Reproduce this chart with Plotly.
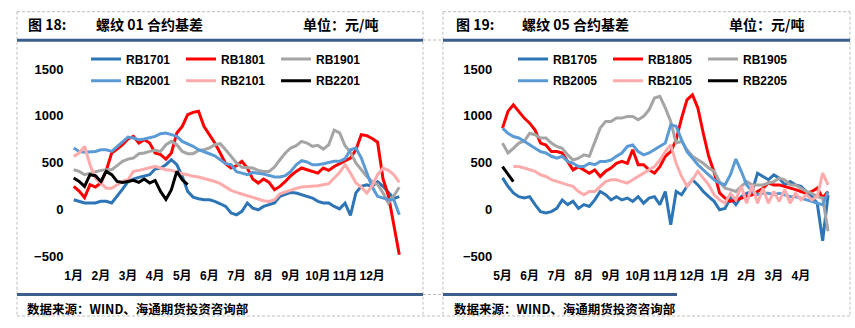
import plotly.graph_objects as go

W, H = 855, 328

# ---- categories: months of the contract season (x = months from season start, 0.2-month steps)
x_months = [round(i * 0.2, 1) for i in range(61)]
ticks_01 = ["1月", "2月", "3月", "4月", "5月", "6月", "7月", "8月", "9月", "10月", "11月", "12月"]
ticks_05 = ["5月", "6月", "7月", "8月", "9月", "10月", "11月", "12月", "1月", "2月", "3月", "4月"]
y_ticks = [-500, 0, 500, 1000, 1500]

N = None
# ---- 01 contracts basis (元/吨)
rb1701 = [107, 90, 72, 72, 72, 90, 90, 72, 143, 220, 300, 327, 345, 356, 374, 434, 445, 480, 533, 480,
          356, 196, 135, 118, 107, 107, 90, 64, 36, -35, -53, -17, 72, 18, 0, 36, 54, 72, 143, 160,
          185, 178, 160, 143, 125, 90, 72, 72, 36, 10, 70, -60, 180, 249, 267, 249, 300, 250, 180, 120, 140]
rb1801 = [249, 200, 130, 267, 242, 285, 420, 605, 647, 693, 754, 782, 711, 747, 711, 605, 587, 540, 605, 818,
          889, 1013, 1038, 1049, 889, 800, 711, 605, 491, 445, 470, 516, 445, 327, 285, 327, 292, 214, 249, 302,
          363, 409, 445, 427, 409, 391, 445, 420, 462, 491, 526, 551, 640, 800, 790, 760, 720, 330, 150, -160, -480]
rb1901 = [427, 409, 374, 391, 409, 420, 427, 427, 470, 516, 540, 551, 597, 605, 622, 633, 622, 693, 729, 693,
          622, 597, 597, 633, 640, 658, 693, 704, 640, 569, 500, 452, 445, 445, 420, 409, 409, 455, 533, 605,
          658, 683, 729, 711, 676, 686, 647, 693, 850, 820, 683, 612, 498, 427, 356, 300, 270, 180, 70, 150, 240]
rb2001 = [658, 622, 612, 615, 622, 640, 640, 622, 676, 729, 775, 764, 747, 754, 764, 782, 810, 818, 800, 782,
          729, 704, 676, 640, 622, 597, 576, 533, 491, 480, 405, 391, 374, 398, 391, 380, 366, 349, 349, 363,
          409, 480, 523, 509, 480, 480, 491, 505, 516, 516, 544, 640, 658, 551, 391, 242, 143, 125, 107, 107, -53]
rb2101 = [569, 605, 676, 480, 338, 285, 230, 230, 267, 302, 320, 409, 420, 434, 445, 462, 445, 427, 420, 398,
          384, 374, 356, 349, 335, 320, 302, 278, 242, 207, 185, 171, 150, 132, 114, 96, 89, 107, 171, 192,
          214, 228, 242, 246, 249, 256, 267, 278, 338, 398, 480, 391, 285, 242, 178, 256, 374, 445, 420, 374, 292]
rb2201 = [338, 302, 249, 374, 363, 302, 409, 374, 302, 292, 302, 313, 292, 327, 285, 313, 196, 110, 214, 409,
          320, 267] + [N] * 39

# ---- 05 contracts basis (元/吨)
rb1705 = [340, 250, 180, 140, 125, 140, 55, -20, -35, -20, 15, 105, 55, 90, 15, 55, 35, 105, 195, 160,
          105, 140, 105, 125, 90, 140, 70, 125, 140, 55, 195, -160, 195, 160, 250, 320, 265, 195, 140, 90,
          0, 15, 125, 55, 140, 175, 195, 390, 355, 320, 373, 337, 265, 300, 265, 250, 195, 140, 70, -330, 160]
rb1805 = [870, 1048, 1119, 1048, 977, 923, 850, 710, 690, 620, 620, 605, 515, 425, 460, 425, 390, 425, 355, 410,
          445, 495, 515, 495, 640, 480, 480, 425, 390, 460, 570, 620, 745, 977, 1172, 1225, 1085, 815, 570, 400,
          180, 125, 90, 105, 125, 140, 160, 195, 230, 285, 265, 265, 250, 230, 215, 195, 175, 195, 230, 125, 195]
rb1905 = [710, 605, 655, 710, 730, 815, 800, 765, 765, 710, 675, 655, 585, 530, 550, 585, 570, 730, 870, 940,
          940, 977, 977, 995, 995, 960, 995, 1065, 1190, 1208, 1085, 940, 710, 730, 640, 570, 530, 495, 445, 410,
          300, 230, 215, 195, 250, 300, 265, 265, 265, 285, 300, 337, 320, 265, 265, 230, 195, 175, 140, 125, -230]
rb2005 = [870, 815, 780, 765, 730, 690, 655, 620, 605, 570, 550, 570, 515, 495, 460, 460, 495, 480, 515, 515,
          530, 570, 605, 675, 690, 620, 585, 605, 640, 675, 710, 905, 890, 745, 620, 550, 480, 425, 373, 320,
          285, 265, 373, 540, 410, 265, 195, 160, 175, 175, 160, 175, 160, 140, 140, 125, 105, 90, 70, 55, 195]
rb2105 = [N, N, 460, 460, 445, 425, 410, 373, 355, 320, 300, 285, 265, 250, 195, 160, 195, 195, 250, 300,
          320, 320, 300, 285, 320, 355, 390, 425, 460, 530, 620, 690, 495, 355, 250, 320, 410, 337, 265, 160,
          105, 70, 175, 105, 250, 70, 265, 70, 230, 70, 195, 90, 215, 70, 175, 105, 160, 105, 140, 390, 265]
rb2205 = [460, 380, 300] + [N] * 58

COLORS = ["#2E75B6", "#FF0000", "#A5A5A5", "#5B9BD5", "#FFABAB", "#000000"]
FRAME_BLUE = "#3B5E8C"
DASH_GREY = "#BDBDBD"

left_series = [("RB1701", rb1701), ("RB1801", rb1801), ("RB1901", rb1901),
               ("RB2001", rb2001), ("RB2101", rb2101), ("RB2201", rb2201)]
right_series = [("RB1705", rb1705), ("RB1805", rb1805), ("RB1905", rb1905),
                ("RB2005", rb2005), ("RB2105", rb2105), ("RB2205", rb2205)]


def px(x):
    return x / W


def py(y):
    return (H - y) / H


fig = go.Figure()

for k, (name, vals) in enumerate(left_series):
    fig.add_trace(go.Scatter(x=x_months, y=vals, name=name, mode="lines",
                             line=dict(color=COLORS[k], width=3), connectgaps=False,
                             xaxis="x", yaxis="y", legend="legend" if k < 3 else "legend2"))
for k, (name, vals) in enumerate(right_series):
    fig.add_trace(go.Scatter(x=x_months, y=vals, name=name, mode="lines",
                             line=dict(color=COLORS[k], width=3), connectgaps=False,
                             xaxis="x2", yaxis="y2", legend="legend3" if k < 3 else "legend4"))

tick_font = dict(family="Liberation Sans, Arial", size=13, color="#000000", weight="bold")
month_font = dict(family="Liberation Sans, Noto Sans CJK SC", size=12, color="#000000", weight="bold")

x_common = dict(range=[-0.1, 12.1], tickmode="array", tickvals=list(range(12)), tickangle=0,
                showgrid=False, zeroline=False, showline=False, automargin=False,
                ticks="outside", ticklen=8, tickcolor="rgba(0,0,0,0)", tickfont=month_font)
y_common = dict(range=[-500, 1500], tickmode="array", tickvals=y_ticks, tickformat="d",
                showgrid=False, zeroline=False, showline=False, automargin=False,
                ticks="outside", ticklen=4, tickcolor="rgba(0,0,0,0)", tickfont=tick_font)

y_dom = [py(256.7), py(69)]

legend_base = dict(orientation="h", entrywidth=50, entrywidthmode="pixels",
                   font=dict(family="Liberation Sans, Arial", size=12, color="#000000", weight="bold"),
                   bgcolor="rgba(0,0,0,0)", borderwidth=0, xanchor="left", yanchor="middle",
                   itemwidth=30, tracegroupgap=0, itemclick=False)

fig.update_layout(
    width=W, height=H, autosize=False,
    margin=dict(l=0, r=0, t=0, b=0, autoexpand=False),
    paper_bgcolor="white", plot_bgcolor="white",
    xaxis=dict(domain=[px(71), px(402)], ticktext=ticks_01, anchor="y", **x_common),
    yaxis=dict(domain=y_dom, anchor="x", **y_common),
    xaxis2=dict(domain=[px(499.8), px(830.8)], ticktext=ticks_05, anchor="y2", **x_common),
    yaxis2=dict(domain=y_dom, anchor="x2", **y_common),
    legend=dict(x=px(86), y=py(59), **legend_base),
    legend2=dict(x=px(86), y=py(80.7), **legend_base),
    legend3=dict(x=px(513), y=py(59), **legend_base),
    legend4=dict(x=px(513), y=py(80.7), **legend_base),
)

shapes = []


def hline(x0, x1, y, color, width, dash=None):
    shapes.append(dict(type="line", xref="paper", yref="paper", x0=px(x0), x1=px(x1), y0=py(y), y1=py(y),
                       line=dict(color=color, width=width, dash=dash or "solid")))


def vline(x, y0, y1, color, width, dash=None):
    shapes.append(dict(type="line", xref="paper", yref="paper", x0=px(x), x1=px(x), y0=py(y0), y1=py(y1),
                       line=dict(color=color, width=width, dash=dash or "solid")))


# dashed table frame around both panels
dash = "3px,2px"
for xl, xr in [(17, 423), (443, 850)]:
    hline(xl, xr, 11.7, DASH_GREY, 1, dash)
    vline(xl, 11.7, 316, DASH_GREY, 1, dash)
    vline(xr, 11.7, 316, DASH_GREY, 1, dash)
hline(17, 850, 316, DASH_GREY, 1, dash)
hline(423, 443, 40, DASH_GREY, 1, dash)
hline(423, 443, 294.5, DASH_GREY, 1, dash)

# heavy blue rules under the titles and above the source notes
hline(17, 423, 40.3, FRAME_BLUE, 3)
hline(443, 850, 40.3, FRAME_BLUE, 3)
hline(17, 423, 294.5, FRAME_BLUE, 3)
hline(443, 677, 294.5, FRAME_BLUE, 3)

fig.update_layout(shapes=shapes)

title_font = dict(family="Noto Sans CJK SC", size=14, color="#000000", weight="bold")
src_font = dict(family="Noto Sans CJK SC", size=12.5, color="#000000", weight="bold")


def note(text, x, y, font):
    fig.add_annotation(text=text, xref="paper", yref="paper", x=px(x), y=py(y),
                       xanchor="left", yanchor="middle", showarrow=False, font=font)


note("图 18:", 26, 24, title_font)
note("螺纹 01 合约基差", 94, 24, title_font)
note("单位：元/吨", 301, 24, title_font)
note("图 19:", 454, 24, title_font)
note("螺纹 05 合约基差", 520, 24, title_font)
note("单位：元/吨", 727, 24, title_font)
note("数据来源：WIND、海通期货投资咨询部", 25, 308, src_font)
note("数据来源：WIND、海通期货投资咨询部", 452, 308, src_font)

fig.write_html("out.html")
